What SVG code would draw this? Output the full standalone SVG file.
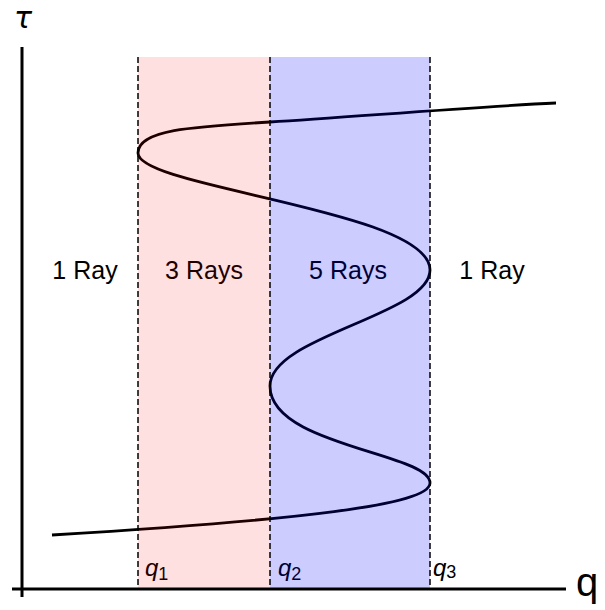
<svg xmlns="http://www.w3.org/2000/svg" width="605" height="610" viewBox="0 0 605 610">
<style>
.lbl{font-family:"Liberation Sans",Arial,sans-serif;font-size:25px;fill:#000;text-anchor:middle}
.q{font-family:"Liberation Sans",Arial,sans-serif;font-style:italic;font-size:24px;fill:#000}
.sub{font-style:normal;font-size:18px}
.dash{stroke:#000;stroke-width:1.5;stroke-dasharray:6,3;fill:none}
.axis{stroke:#000;stroke-width:3;fill:none}
</style>
<rect x="0" y="0" width="605" height="610" fill="#fff"/>
<g id="curve">
<path d="M52,535 C300,520 430,505 430,483 C430,453 270,446 270,386 C270,336 430,315 430,270 C430,210 138,188 138,153 C138,130 190,126.8 270,122 C350,117.2 470,107 556,103" fill="none" stroke="#000" stroke-width="2.8" stroke-linecap="butt"/>
</g>
<g id="region-labels">
<text class="lbl" x="85" y="279">1 Ray</text>
<text class="lbl" x="204" y="279">3 Rays</text>
<text class="lbl" x="348" y="279">5 Rays</text>
<text class="lbl" x="492" y="279">1 Ray</text>
</g>
<g id="q-labels">
<text class="q" x="145" y="576">q<tspan class="sub" dy="4">1</tspan></text>
<text class="q" x="278" y="576">q<tspan class="sub" dy="4">2</tspan></text>
<text class="q" x="433" y="576">q<tspan class="sub" dy="2">3</tspan></text>
</g>
<g id="band-3rays">
<rect x="138" y="57" width="132" height="532" fill="#f00" fill-opacity="0.12"/>
</g>
<g id="band-5rays">
<rect x="270" y="57" width="160" height="532" fill="#00f" fill-opacity="0.2"/>
</g>
<g id="dividers">
<line class="dash" x1="138" y1="57" x2="138" y2="589"/>
<line class="dash" x1="270" y1="57" x2="270" y2="589"/>
<line class="dash" x1="430" y1="57" x2="430" y2="589"/>
</g>
<g id="axes">
<line class="axis" x1="22" y1="47" x2="22" y2="597"/>
<line class="axis" x1="12" y1="589" x2="566" y2="589"/>
<text x="14" y="28" font-family="'DejaVu Sans',sans-serif" font-style="italic" font-size="30">τ</text>
<text x="576" y="596" font-family="'Liberation Sans',Arial,sans-serif" font-size="40">q</text>
</g>
</svg>
